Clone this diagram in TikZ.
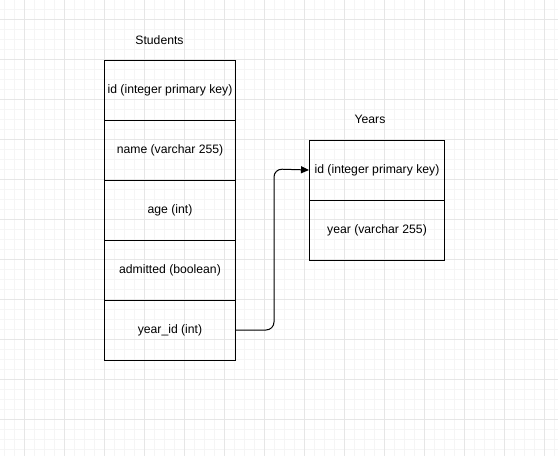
\documentclass[tikz,border=0pt]{standalone}
\usepackage{fontspec}
\setmainfont{Liberation Sans}
\usetikzlibrary{arrows.meta}
\definecolor{minorgrid}{HTML}{F5F5F5}
\definecolor{majorgrid}{HTML}{E6E6E6}
\tikzset{
  field/.style={draw=black, line width=1pt, minimum height=60pt, inner sep=0pt, font=\fontsize{12.2}{14}\selectfont, anchor=north west},
  title/.style={font=\fontsize{12.2}{14}\selectfont},
  link/.style={draw=black, line width=1pt, rounded corners=8pt, -{Triangle[length=8pt,width=7pt]}}
}
\begin{document}
\begin{tikzpicture}[x=1pt,y=-1pt]
\useasboundingbox (0,0) rectangle (558,456);
\fill[white] (0,0) rectangle (558,456);
% grid
\foreach \x in {4,14,...,554} \draw[minorgrid, line width=0.8pt] (\x,0) -- (\x,456);
\foreach \y in {9,19,...,449} \draw[minorgrid, line width=0.8pt] (0,\y) -- (558,\y);
\foreach \x in {24,64,...,544} \draw[majorgrid, line width=0.8pt] (\x,0) -- (\x,456);
\foreach \y in {19,59,...,419} \draw[majorgrid, line width=0.8pt] (0,\y) -- (558,\y);
% Students
\node[title] (stitle) at (159.5,40) {Students};
\node[field, minimum width=131pt] (s1) at (104,59.5) {id (integer primary key)};
\node[field, minimum width=131pt] (s2) at (104,119.5) {name (varchar 255)};
\node[field, minimum width=131pt] (s3) at (104,179.5) {age (int)};
\node[field, minimum width=131pt] (s4) at (104,239.5) {admitted (boolean)};
\node[field, minimum width=131pt] (s5) at (104,299.5) {year\_id (int)};
% Years
\node[title] (ytitle) at (370,119) {Years};
\node[field, minimum width=135pt] (y1) at (309,139.5) {id (integer primary key)};
\node[field, minimum width=135pt] (y2) at (309,199.5) {year (varchar 255)};
% connector
\draw[link] (s5.east) -| (274,169) -- (y1.west);
\end{tikzpicture}
\end{document}
